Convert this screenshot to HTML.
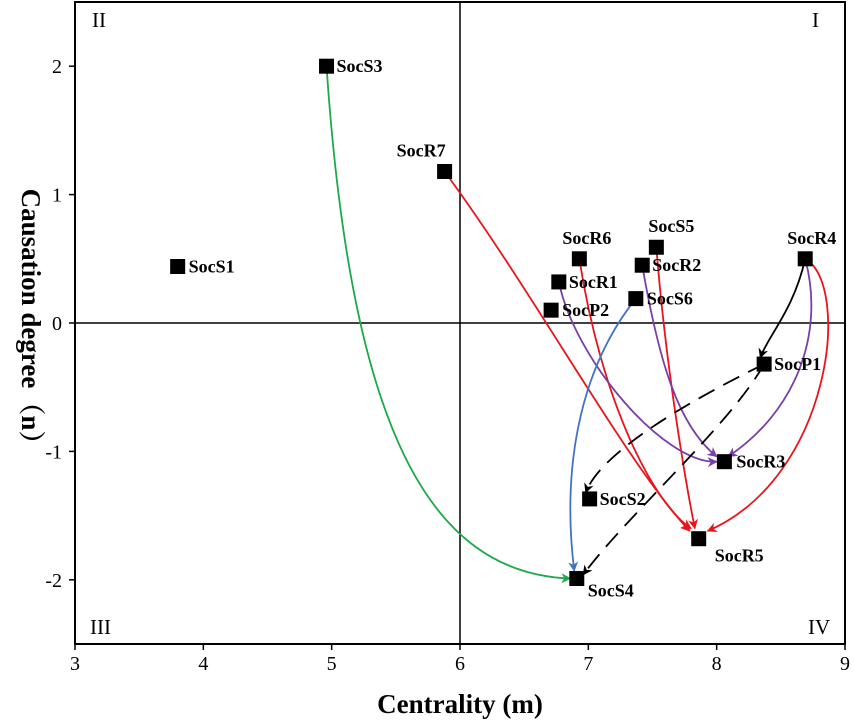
<!DOCTYPE html>
<html><head><meta charset="utf-8"><style>
body{margin:0;background:#fff}
svg{display:block;font-family:"Liberation Serif",serif}
</style></head><body>
<svg id="c" width="854" height="721">
<defs>
<marker id="m-red" viewBox="0 0 10 10" refX="9" refY="5" markerWidth="10" markerHeight="10" orient="auto" markerUnits="userSpaceOnUse"><path d="M0,0L10,5L0,10L3,5Z" fill="#e8141b"/></marker>
<marker id="m-purple" viewBox="0 0 10 10" refX="9" refY="5" markerWidth="10" markerHeight="10" orient="auto" markerUnits="userSpaceOnUse"><path d="M0,0L10,5L0,10L3,5Z" fill="#7a3fa6"/></marker>
<marker id="m-blue" viewBox="0 0 10 10" refX="9" refY="5" markerWidth="10" markerHeight="10" orient="auto" markerUnits="userSpaceOnUse"><path d="M0,0L10,5L0,10L3,5Z" fill="#4472c4"/></marker>
<marker id="m-green" viewBox="0 0 10 10" refX="9" refY="5" markerWidth="10" markerHeight="10" orient="auto" markerUnits="userSpaceOnUse"><path d="M0,0L10,5L0,10L3,5Z" fill="#1aaa4a"/></marker>
<marker id="m-black" viewBox="0 0 10 10" refX="9" refY="5" markerWidth="10" markerHeight="10" orient="auto" markerUnits="userSpaceOnUse"><path d="M0,0L10,5L0,10L3,5Z" fill="#000"/></marker>
</defs>
</svg>
<script>
const names=["SocS3","SocR7","SocS1","SocR6","SocS5","SocR4","SocR1","SocR2","SocS6","SocP2","SocP1","SocR3","SocS2","SocR5","SocS4"];
const centrality=[4.96,5.88,3.8,6.93,7.53,8.69,6.77,7.42,7.37,6.71,8.37,8.06,7.01,7.86,6.91];
const causation=[2.0,1.18,0.44,0.5,0.59,0.5,0.32,0.45,0.19,0.1,-0.32,-1.08,-1.37,-1.68,-1.99];
const xTicks=[3,4,5,6,7,8,9];
const yTicks=[-2,-1,0,1,2];
const arrowFrom=["SocS3","SocR7","SocR6","SocS5","SocR4","SocR1","SocR2","SocR4","SocS6","SocR4","SocP1","SocP1"];
const arrowTo=["SocS4","SocR5","SocR5","SocR5","SocR5","SocR3","SocR3","SocR3","SocS4","SocP1","SocS2","SocS4"];
const arrowColor=["green","red","red","red","red","purple","purple","purple","blue","black","black","black"];
const arrowDashed=[0,0,0,0,0,0,0,0,0,0,1,1];
const arrowC1=[[5.15,-0.8],[6.6,0.2],[7.1,-0.6],[7.6,-0.3],[9.05,0.3],[6.9,-0.3],[7.55,-0.3],[8.85,-0.1],[6.9,-0.4],[8.6,0.1],[7.8,-0.6],[8.1,-0.8]];
const arrowC2=[[5.75,-1.95],[7.3,-1.1],[7.5,-1.4],[7.75,-1.2],[8.9,-1.2],[7.6,-1.1],[7.7,-0.8],[8.6,-0.7],[6.8,-1.2],[8.4,-0.1],[7.1,-1.0],[7.3,-1.5]];
const arrowEnd=[[6.86,-1.99],[7.79,-1.62],[7.8,-1.6],[7.83,-1.6],[7.93,-1.62],[8.0,-1.08],[8.0,-1.04],[8.09,-1.04],[6.89,-1.93],[8.34,-0.27],[6.98,-1.32],[6.96,-1.96]];
const colors={red:"#e8141b",purple:"#7a3fa6",blue:"#4472c4",green:"#1aaa4a",black:"#000"};
const labelDx=[10,-48,11,-17,-8,-18,10,10,11,11,10,12,10,16,11];
const labelDy=[6,-15,6,-15,-15,-15,6,6,6,6,6,6,6,23,18];

const L=75,R=845,T=2,B=644;
const sx=v=>L+(v-3)/6*(R-L);
const sy=v=>T+(2.5-v)/5*(B-T);
const svg=document.getElementById('c');
const NS="http://www.w3.org/2000/svg";
function mk(tag,attrs,parent){const e=document.createElementNS(NS,tag);for(const k in attrs)e.setAttribute(k,attrs[k]);(parent||svg).appendChild(e);return e;}

const fr=mk('rect',{x:L,y:T,width:R-L,height:B-T,fill:'none',stroke:'#000','stroke-width':2});


const vx=mk('line',{x1:sx(6),x2:sx(6),y1:T,y2:B,stroke:'#000','stroke-width':1.5});


const hx=mk('line',{x1:L,x2:R,y1:sy(0),y2:sy(0),stroke:'#000','stroke-width':1.5});



xTicks.forEach(t=>{
  const l=mk('line',{x1:sx(t),x2:sx(t),y1:B,y2:B+6,stroke:'#000','stroke-width':1.5});
  
  
  const tx=mk('text',{x:sx(t),y:B+26,'text-anchor':'middle','font-size':20});
  tx.textContent=t;
  
  
});
yTicks.forEach(t=>{
  const l=mk('line',{x1:L-6,x2:L,y1:sy(t),y2:sy(t),stroke:'#000','stroke-width':1.5});
  
  
  const tx=mk('text',{x:L-13,y:sy(t)+7,'text-anchor':'end','font-size':20});
  tx.textContent=t;
  
  
});
const xt=mk('text',{x:460,y:713,'text-anchor':'middle','font-size':27,'font-weight':'bold'});
xt.textContent='Centrality (m)';


const yt=mk('text',{x:0,y:0,'text-anchor':'middle','font-size':27,'font-weight':'bold',transform:'translate(22,323) rotate(90)',"font-family":'"Liberation Serif","Noto Serif CJK SC",serif'});
yt.textContent='Causation degree（n）';


[['II',92,27],['I',812,27],['III',90,634],['IV',808,634]].forEach(q=>{
  const t=mk('text',{x:q[1],y:q[2],'font-size':21});
  t.textContent=q[0];
  
  
});

arrowFrom.forEach((f,i)=>{
  const a=names.indexOf(f);
  const d=`M${sx(centrality[a])},${sy(causation[a])} C${sx(arrowC1[i][0])},${sy(arrowC1[i][1])} ${sx(arrowC2[i][0])},${sy(arrowC2[i][1])} ${sx(arrowEnd[i][0])},${sy(arrowEnd[i][1])}`;
  const p=mk('path',{d,fill:'none',stroke:colors[arrowColor[i]],'stroke-width':1.8,'marker-end':`url(#m-${arrowColor[i]})`});
  if(arrowDashed[i])p.setAttribute('stroke-dasharray','18 10');
  
  
});

names.forEach((n,i)=>{
  const r=mk('rect',{x:sx(centrality[i])-7.5,y:sy(causation[i])-7.5,width:15,height:15,fill:'#000'});
  
  
  const t=mk('text',{x:sx(centrality[i])+labelDx[i],y:sy(causation[i])+labelDy[i],'font-size':18,'font-weight':'bold'});
  t.textContent=n;
  
  
});
</script>
</body></html>
